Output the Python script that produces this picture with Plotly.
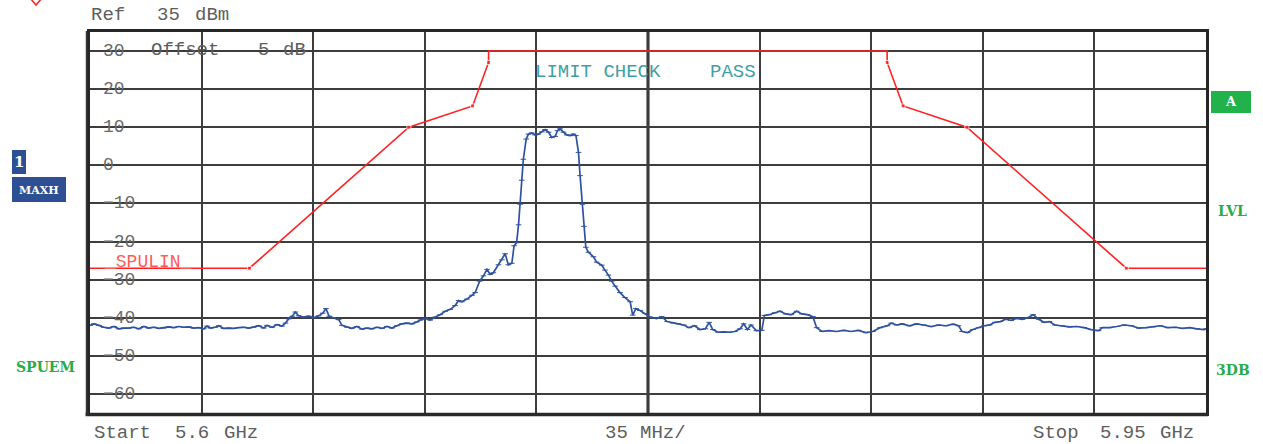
import plotly.graph_objects as go

# ---------------- data ----------------
trace_freq_mhz = [
    5600.0, 5601.2, 5602.8, 5604.3, 5605.9, 5607.5, 5609.0, 5610.6, 5612.2, 5613.7,
    5615.3, 5616.9, 5618.4, 5620.0, 5621.6, 5623.1, 5624.7, 5626.3, 5627.8, 5629.4,
    5631.0, 5632.5, 5634.1, 5635.7, 5636.7, 5637.8, 5639.3, 5640.4, 5641.9, 5643.5,
    5645.1, 5646.6, 5648.2, 5649.8, 5651.3, 5652.9, 5654.5, 5655.5, 5657.1, 5658.7,
    5660.2, 5661.3, 5662.3, 5663.4, 5664.4, 5665.4, 5667.0, 5668.6, 5670.1, 5671.7,
    5673.0, 5674.0, 5675.0, 5676.4, 5678.0, 5679.0, 5680.6, 5682.1, 5683.7, 5685.3,
    5686.9, 5688.4, 5690.0, 5691.6, 5693.1, 5694.7, 5696.2, 5697.8, 5699.4, 5701.0,
    5702.5,
    5703.6, 5705.1, 5706.7, 5708.3, 5709.8, 5711.4, 5713.0, 5714.5, 5715.6, 5716.6,
    5718.2, 5719.8, 5720.8, 5722.2, 5723.4, 5724.5, 5725.5, 5726.5, 5728.1, 5729.2,
    5730.2, 5731.2, 5732.3, 5733.0, 5733.8, 5734.4, 5734.9, 5735.4, 5735.9, 5736.8,
    5737.5, 5738.5, 5739.6, 5740.6, 5741.7, 5742.7, 5743.8, 5744.8, 5745.9, 5746.6,
    5747.4, 5748.5, 5749.5, 5750.6, 5751.6, 5752.4, 5753.2, 5753.7, 5754.4, 5754.9,
    5755.5, 5756.3, 5757.9, 5758.9, 5760.5, 5761.5, 5762.6, 5763.6, 5764.7, 5766.2,
    5767.8, 5769.4, 5770.2, 5771.2, 5772.5, 5774.1, 5775.6, 5777.7,
    5779.3, 5781.0, 5782.8, 5784.5, 5786.2, 5787.9, 5789.6, 5791.3, 5793.0, 5794.2,
    5795.3, 5797.0, 5798.7, 5800.5, 5802.2, 5803.9, 5805.0, 5806.2, 5807.3, 5809.0,
    5810.7, 5811.5, 5813.0, 5814.7, 5816.4, 5818.2, 5819.9, 5821.6, 5823.3, 5825.0,
    5826.7, 5827.9, 5829.6, 5831.9, 5834.1, 5836.4, 5838.7, 5841.0, 5843.3, 5845.5,
    5847.8, 5850.1, 5851.3, 5853.0, 5854.7, 5857.0, 5859.2, 5861.5, 5863.8, 5866.1,
    5868.4, 5870.7, 5872.4, 5873.5, 5875.2, 5876.9, 5878.7, 5880.4, 5882.1, 5883.8,
    5885.5, 5887.2, 5888.9, 5890.6, 5892.4, 5894.1, 5895.8, 5897.5, 5899.2, 5900.9,
    5902.6, 5904.9, 5907.2, 5909.5, 5911.8, 5914.0, 5916.3, 5917.5, 5919.7, 5922.0,
    5924.3, 5926.6, 5928.9, 5931.2, 5933.4, 5935.7, 5938.0, 5940.3, 5942.6, 5944.9,
    5947.2, 5949.4, 5950.0,
]
trace_level_dbm = [
    -42.0, -41.6, -42.0, -42.5, -42.7, -42.3, -42.9, -42.7, -42.7, -42.5,
    -42.9, -42.3, -42.7, -42.5, -42.8, -42.7, -42.4, -42.6, -42.3, -42.5,
    -42.4, -42.7, -42.6, -42.9, -42.2, -42.7, -42.5, -42.1, -42.8, -42.7,
    -42.8, -42.6, -42.5, -42.7, -42.5, -42.1, -42.7, -42.0, -42.5, -41.8,
    -42.2, -41.4, -40.3, -39.6, -38.5, -39.5, -39.8, -39.6, -40.0, -39.5,
    -38.8, -37.6, -39.6, -40.0, -40.5, -42.0, -42.5, -42.8, -42.3, -43.0,
    -42.7, -42.9, -42.5, -42.8, -42.3, -42.7, -42.1, -41.6, -41.4, -41.6,
    -41.1,
    -40.6, -40.2, -40.6, -39.8, -39.2, -38.3, -37.8, -36.8, -35.5, -35.8,
    -35.1, -34.1, -33.4, -30.4, -29.0, -27.3, -28.6, -28.2, -26.1, -24.8,
    -23.2, -26.1, -25.7, -21.1, -20.3, -15.6, -10.2, -3.9, 1.6, 6.9,
    8.2, 8.5, 8.0, 8.2, 8.8, 9.4, 8.7, 7.3, 7.6, 9.1,
    9.6, 8.7, 8.0, 7.8, 8.2, 7.8, 3.4, -2.7, -10.2, -16.0,
    -21.5, -22.8, -24.0, -25.4, -26.2, -27.5, -28.8, -30.4, -31.7, -33.4,
    -34.7, -35.8, -39.3, -37.6, -38.1, -38.9, -39.8, -40.2,
    -39.7, -41.0, -41.4, -41.6, -41.9, -42.6, -42.1, -43.1, -42.9, -41.2,
    -43.1, -43.8, -43.7, -43.8, -43.6, -42.9, -41.6, -43.1, -41.9, -43.4,
    -43.3, -39.4, -39.2, -38.7, -38.3, -39.0, -39.2, -38.3, -39.0, -39.2,
    -39.7, -42.6, -43.6, -43.4, -43.6, -43.3, -43.6, -43.3, -43.9, -43.6,
    -42.6, -42.1, -41.4, -41.9, -41.6, -42.1, -41.6, -41.9, -42.3, -41.9,
    -42.1, -41.7, -42.1, -43.6, -43.9, -43.1, -42.6, -42.1, -41.9, -41.2,
    -41.0, -40.4, -40.7, -40.2, -40.4, -40.0, -39.2, -40.4, -41.2, -41.0,
    -41.9, -42.1, -42.4, -42.3, -42.6, -43.1, -43.4, -42.6, -42.6, -42.3,
    -41.9, -42.1, -42.7, -42.6, -42.4, -42.1, -42.6, -42.5, -42.8, -42.6,
    -42.9, -43.1, -42.9,
]

limit_freq_mhz = [5600, 5650, 5700, 5720, 5725, 5725, 5850, 5850, 5855, 5875, 5925, 5950]
limit_level_dbm = [-27, -27, 10, 15.6, 27, 30, 30, 27, 15.6, 10, -27, -27]
limit_vertex_marker = [0, 4, 4, 4, 4, 0, 0, 4, 4, 4, 4, 0]

y_grid_values = [30, 20, 10, 0, -10, -20, -30, -40, -50, -60]
y_grid_labels = ["30", "20", "10", "0", "\u221210", "\u221220", "\u221230", "\u221240", "\u221250", "\u221260"]

freq_start_mhz = 5600
freq_stop_mhz = 5950
freq_div_mhz = 35
ref_level_dbm = 35
bottom_level_dbm = -65

# ---------------- styling ----------------
MONO = "Courier New, Courier, Liberation Mono, monospace"
SERIF = "DejaVu Serif, Liberation Serif, serif"
GRID = "#3d3d3d"
FRAME = "#262626"
BLUE = "#2f52a0"
RED = "#ff2020"
GRAYTXT = "#5e5e5e"
TEAL = "#3f9fa5"
GREEN = "#2aab4a"

L, R, T, B = 90, 1206, 32, 413  # plot area in pixels
W, H = 1263, 444


def px_x(px):
    return (px - L) / (R - L)


def px_y(py):
    return (B - py) / (B - T)


fig = go.Figure()

fig.add_trace(go.Scatter(
    x=limit_freq_mhz, y=limit_level_dbm, mode="lines+markers",
    line=dict(color=RED, width=1.6),
    marker=dict(size=limit_vertex_marker, color=RED, symbol="square"),
    hoverinfo="skip",
))
fig.add_trace(go.Scatter(
    x=trace_freq_mhz, y=trace_level_dbm, mode="lines+markers",
    line=dict(color=BLUE, width=1.7),
    marker=dict(symbol="line-ew", size=4, line=dict(width=1, color=BLUE)),
    hoverinfo="skip",
))

shapes = []
# centre graticule line (thicker)
shapes.append(dict(type="line", xref="x", yref="paper",
                   x0=(freq_start_mhz + freq_stop_mhz) / 2, x1=(freq_start_mhz + freq_stop_mhz) / 2,
                   y0=0, y1=1, line=dict(color="#1e1e1e", width=3), layer="below"))
# left double border line
shapes.append(dict(type="line", xref="paper", yref="paper",
                   x0=px_x(86.5), x1=px_x(86.5), y0=px_y(413), y1=px_y(31),
                   line=dict(color="#3a3a3a", width=1.5)))
# thicker bottom border
shapes.append(dict(type="line", xref="paper", yref="paper",
                   x0=px_x(85.5), x1=px_x(1208), y0=px_y(414.5), y1=px_y(414.5),
                   line=dict(color="#2a2a2a", width=3.5)))
# white knock-outs behind the level labels (between grid and traces)
for v, t in zip(y_grid_values, y_grid_labels):
    shapes.append(dict(type="rect", xref="paper", yref="y",
                       x0=px_x(101), x1=px_x(101 + 12 * len(t) + 2),
                       y0=v - 0.9, y1=v + 0.9,
                       fillcolor="white", line=dict(width=0), layer="between"))
# info boxes
def box(x0, y0, x1, y1, color):
    shapes.append(dict(type="rect", xref="paper", yref="paper",
                       x0=px_x(x0), x1=px_x(x1), y0=px_y(y1), y1=px_y(y0),
                       fillcolor=color, line=dict(width=0)))

box(12, 150, 26, 174, "#2e4f94")
box(12, 177, 66, 202, "#2e4f94")
box(1211, 91, 1251, 113, "#22b24c")
# partially visible red marker symbol at the very top
shapes.append(dict(type="path", xref="paper", yref="paper",
                   path=f"M {px_x(30)},{px_y(-2)} L {px_x(36)},{px_y(5)} L {px_x(42)},{px_y(-2)}",
                   line=dict(color=RED, width=1.5)))

annotations = []


def text(px, py, s, color=GRAYTXT, size=19, family=MONO, anchor="left"):
    annotations.append(dict(xref="paper", yref="paper", x=px_x(px), y=px_y(py),
                            text=s, showarrow=False, xanchor=anchor, yanchor="middle",
                            font=dict(family=family, size=size, color=color)))


for v, t in zip(y_grid_values, y_grid_labels):
    annotations.append(dict(xref="paper", yref="y", x=px_x(101), y=v, text=t,
                            showarrow=False, xanchor="left", yanchor="middle",
                            font=dict(family=MONO, size=18, color="#6a6a6a")))

text(89, 15, "Ref")
text(155, 15, str(ref_level_dbm))
text(193, 15, "dBm")
text(149, 50, "Offset")
text(256, 50, "5")
text(281, 50, "dB")
text(533, 72, "LIMIT CHECK", color=TEAL)
text(708, 72, "PASS", color=TEAL)
text(102, 262, "_SPULIN_", color="#ff5a5a", size=18)
text(92, 433, "Start")
text(173, 433, "5.6")
text(222, 433, "GHz")
text(603, 433, str(freq_div_mhz))
text(638, 433, "MHz/")
text(1031, 433, "Stop")
text(1098, 433, "5.95")
text(1158, 433, "GHz")

text(19, 162, "<b>1</b>", color="white", size=15, family=SERIF, anchor="center")
text(39, 190, "<b>MAXH</b>", color="white", size=11, family=SERIF, anchor="center")
text(1231, 102, "<b>A</b>", color="white", size=13, family=SERIF, anchor="center")
text(45.5, 367, "<b>SPUEM</b>", color=GREEN, size=14, family=SERIF, anchor="center")
text(1232.5, 211, "<b>LVL</b>", color=GREEN, size=14, family=SERIF, anchor="center")
text(1233, 370, "<b>3DB</b>", color=GREEN, size=14, family=SERIF, anchor="center")

fig.update_layout(
    width=W, height=H,
    margin=dict(l=L, r=W - R, t=T, b=H - B, pad=0),
    paper_bgcolor="white", plot_bgcolor="white",
    showlegend=False,
    shapes=shapes, annotations=annotations,
)
fig.update_xaxes(range=[freq_start_mhz, freq_stop_mhz], tick0=freq_start_mhz, dtick=freq_div_mhz,
                 showticklabels=False, ticks="", showgrid=True, gridcolor=GRID, gridwidth=1.6,
                 showline=True, linecolor=FRAME, linewidth=2.5, mirror=True, zeroline=False)
fig.update_yaxes(range=[bottom_level_dbm, ref_level_dbm], tickvals=y_grid_values,
                 showticklabels=False, ticks="", showgrid=True, gridcolor=GRID, gridwidth=1.6,
                 showline=True, linecolor=FRAME, linewidth=2.5, mirror=True, zeroline=False)

fig.write_html("out.html", config={"displayModeBar": False},
               post_script="document.body.style.margin='0';")
